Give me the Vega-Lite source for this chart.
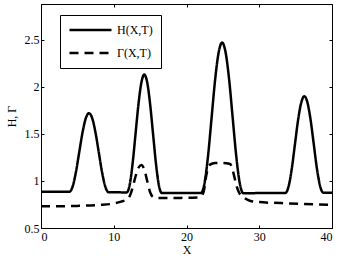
{
  "$schema": "https://vega.github.io/schema/vega-lite/v6.json",
  "width": 291,
  "height": 224,
  "autosize": {"type": "none"},
  "padding": {"left": 41, "top": 4, "right": 7, "bottom": 33},
  "background": "white",
  "config": {
    "view": {"stroke": "black", "strokeWidth": 1},
    "font": "Liberation Serif",
    "axis": {
      "grid": false,
      "domainColor": "black",
      "tickColor": "black",
      "tickSize": -3,
      "labelColor": "black",
      "labelFont": "Liberation Serif",
      "labelFontSize": 12,
      "titleFont": "Liberation Serif",
      "titleFontSize": 12,
      "titleFontWeight": "normal",
      "titleColor": "black"
    },
    "legend": {
      "labelFont": "Liberation Serif",
      "labelFontSize": 12,
      "labelColor": "black"
    }
  },
  "datasets": {
    "curves": [
      {"x": 0, "y": 0.885, "s": "H(X,T)"},
      {"x": 2, "y": 0.885, "s": "H(X,T)"},
      {"x": 3.9, "y": 0.885, "s": "H(X,T)"},
      {"x": 4.35, "y": 0.941, "s": "H(X,T)"},
      {"x": 4.8, "y": 1.094, "s": "H(X,T)"},
      {"x": 5.25, "y": 1.303, "s": "H(X,T)"},
      {"x": 5.7, "y": 1.511, "s": "H(X,T)"},
      {"x": 6.15, "y": 1.664, "s": "H(X,T)"},
      {"x": 6.6, "y": 1.72, "s": "H(X,T)"},
      {"x": 7.05, "y": 1.664, "s": "H(X,T)"},
      {"x": 7.5, "y": 1.51, "s": "H(X,T)"},
      {"x": 7.95, "y": 1.3, "s": "H(X,T)"},
      {"x": 8.4, "y": 1.09, "s": "H(X,T)"},
      {"x": 8.85, "y": 0.936, "s": "H(X,T)"},
      {"x": 9.3, "y": 0.88, "s": "H(X,T)"},
      {"x": 10.5, "y": 0.879, "s": "H(X,T)"},
      {"x": 11.8, "y": 0.878, "s": "H(X,T)"},
      {"x": 12.2, "y": 0.962, "s": "H(X,T)"},
      {"x": 12.6, "y": 1.191, "s": "H(X,T)"},
      {"x": 13.0, "y": 1.504, "s": "H(X,T)"},
      {"x": 13.4, "y": 1.817, "s": "H(X,T)"},
      {"x": 13.8, "y": 2.046, "s": "H(X,T)"},
      {"x": 14.2, "y": 2.13, "s": "H(X,T)"},
      {"x": 14.6, "y": 2.046, "s": "H(X,T)"},
      {"x": 15.0, "y": 1.816, "s": "H(X,T)"},
      {"x": 15.4, "y": 1.501, "s": "H(X,T)"},
      {"x": 15.8, "y": 1.186, "s": "H(X,T)"},
      {"x": 16.2, "y": 0.956, "s": "H(X,T)"},
      {"x": 16.6, "y": 0.872, "s": "H(X,T)"},
      {"x": 19, "y": 0.872, "s": "H(X,T)"},
      {"x": 22.0, "y": 0.872, "s": "H(X,T)"},
      {"x": 22.48, "y": 0.979, "s": "H(X,T)"},
      {"x": 22.97, "y": 1.272, "s": "H(X,T)"},
      {"x": 23.45, "y": 1.672, "s": "H(X,T)"},
      {"x": 23.93, "y": 2.072, "s": "H(X,T)"},
      {"x": 24.42, "y": 2.365, "s": "H(X,T)"},
      {"x": 24.9, "y": 2.47, "s": "H(X,T)"},
      {"x": 25.38, "y": 2.363, "s": "H(X,T)"},
      {"x": 25.87, "y": 2.07, "s": "H(X,T)"},
      {"x": 26.35, "y": 1.67, "s": "H(X,T)"},
      {"x": 26.83, "y": 1.27, "s": "H(X,T)"},
      {"x": 27.32, "y": 0.977, "s": "H(X,T)"},
      {"x": 27.8, "y": 0.87, "s": "H(X,T)"},
      {"x": 30.5, "y": 0.871, "s": "H(X,T)"},
      {"x": 33.6, "y": 0.872, "s": "H(X,T)"},
      {"x": 34.03, "y": 0.941, "s": "H(X,T)"},
      {"x": 34.47, "y": 1.129, "s": "H(X,T)"},
      {"x": 34.9, "y": 1.386, "s": "H(X,T)"},
      {"x": 35.33, "y": 1.643, "s": "H(X,T)"},
      {"x": 35.77, "y": 1.831, "s": "H(X,T)"},
      {"x": 36.2, "y": 1.9, "s": "H(X,T)"},
      {"x": 36.63, "y": 1.831, "s": "H(X,T)"},
      {"x": 37.07, "y": 1.643, "s": "H(X,T)"},
      {"x": 37.5, "y": 1.387, "s": "H(X,T)"},
      {"x": 37.93, "y": 1.13, "s": "H(X,T)"},
      {"x": 38.37, "y": 0.944, "s": "H(X,T)"},
      {"x": 38.8, "y": 0.875, "s": "H(X,T)"},
      {"x": 40, "y": 0.875, "s": "H(X,T)"},
      {"x": 0, "y": 0.73, "s": "Γ(X,T)"},
      {"x": 3, "y": 0.732, "s": "Γ(X,T)"},
      {"x": 5, "y": 0.735, "s": "Γ(X,T)"},
      {"x": 8, "y": 0.745, "s": "Γ(X,T)"},
      {"x": 10, "y": 0.76, "s": "Γ(X,T)"},
      {"x": 11, "y": 0.78, "s": "Γ(X,T)"},
      {"x": 11.7, "y": 0.8, "s": "Γ(X,T)"},
      {"x": 12.2, "y": 0.84, "s": "Γ(X,T)"},
      {"x": 12.6, "y": 0.93, "s": "Γ(X,T)"},
      {"x": 13.0, "y": 1.05, "s": "Γ(X,T)"},
      {"x": 13.4, "y": 1.14, "s": "Γ(X,T)"},
      {"x": 13.8, "y": 1.17, "s": "Γ(X,T)"},
      {"x": 14.2, "y": 1.12, "s": "Γ(X,T)"},
      {"x": 14.6, "y": 1.0, "s": "Γ(X,T)"},
      {"x": 15.0, "y": 0.88, "s": "Γ(X,T)"},
      {"x": 15.4, "y": 0.83, "s": "Γ(X,T)"},
      {"x": 16, "y": 0.82, "s": "Γ(X,T)"},
      {"x": 19, "y": 0.82, "s": "Γ(X,T)"},
      {"x": 21.5, "y": 0.825, "s": "Γ(X,T)"},
      {"x": 22.0, "y": 0.835, "s": "Γ(X,T)"},
      {"x": 22.4, "y": 0.9, "s": "Γ(X,T)"},
      {"x": 22.7, "y": 1.05, "s": "Γ(X,T)"},
      {"x": 23.0, "y": 1.15, "s": "Γ(X,T)"},
      {"x": 23.4, "y": 1.18, "s": "Γ(X,T)"},
      {"x": 24, "y": 1.19, "s": "Γ(X,T)"},
      {"x": 25, "y": 1.19, "s": "Γ(X,T)"},
      {"x": 26, "y": 1.18, "s": "Γ(X,T)"},
      {"x": 26.4, "y": 1.1, "s": "Γ(X,T)"},
      {"x": 26.8, "y": 0.97, "s": "Γ(X,T)"},
      {"x": 27.2, "y": 0.88, "s": "Γ(X,T)"},
      {"x": 27.8, "y": 0.83, "s": "Γ(X,T)"},
      {"x": 28.7, "y": 0.79, "s": "Γ(X,T)"},
      {"x": 30, "y": 0.775, "s": "Γ(X,T)"},
      {"x": 33, "y": 0.765, "s": "Γ(X,T)"},
      {"x": 36, "y": 0.755, "s": "Γ(X,T)"},
      {"x": 40, "y": 0.745, "s": "Γ(X,T)"}
    ]
  },
  "data": {"name": "curves"},
  "layer": [
    {
      "mark": {"type": "line", "interpolate": "monotone", "color": "black", "strokeWidth": 2.5, "clip": true},
      "encoding": {
        "x": {"field": "x", "type": "quantitative",
              "scale": {"domain": [0, 40], "nice": false},
              "axis": {"values": [0, 10, 20, 30, 40], "title": "X", "labelPadding": 6, "titlePadding": 2}},
        "y": {"field": "y", "type": "quantitative",
              "scale": {"domain": [0.5, 2.88], "nice": false, "zero": false},
              "axis": {"values": [0.5, 1, 1.5, 2, 2.5], "format": "~g", "title": "H, Γ", "labelPadding": 5, "titlePadding": 6}},
        "strokeDash": {"field": "s", "type": "nominal",
                       "scale": {"domain": ["H(X,T)", "Γ(X,T)"], "range": [[1, 0], [9, 6]]},
                       "legend": {
                         "title": null, "orient": "none", "legendX": 19, "legendY": 11,
                         "symbolType": "stroke", "symbolSize": 1764, "symbolStrokeWidth": 2.5,
                         "symbolStrokeColor": "black", "clipHeight": 14, "rowPadding": 9,
                         "padding": 8, "labelOffset": 4, "strokeColor": "black", "fillColor": "white",
                         "symbolDash": [1, 0]
                       }}
      }
    },
    {
      "mark": {"type": "line", "opacity": 0},
      "encoding": {
        "x": {"field": "x", "type": "quantitative",
              "axis": {"orient": "top", "values": [0, 10, 20, 30, 40], "labels": false, "title": null, "domain": false}},
        "y": {"field": "y", "type": "quantitative",
              "axis": {"orient": "right", "values": [0.5, 1, 1.5, 2, 2.5], "labels": false, "title": null, "domain": false}}
      }
    }
  ],
  "resolve": {"axis": {"x": "independent", "y": "independent"}}
}
